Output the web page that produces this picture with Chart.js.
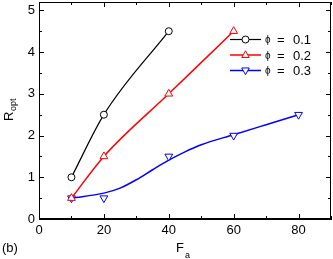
<!DOCTYPE html>
<html>
<head>
<meta charset="utf-8">
<script src="https://cdn.jsdelivr.net/npm/chart.js@4/dist/chart.umd.min.js"></script>
<style>
html,body{margin:0;padding:0;background:#fff;}
canvas{display:block;}
</style>
</head>
<body>
<canvas id="c" width="333" height="259"></canvas>
<script>
// ---- data ----
const phi01X = [10, 20, 40];
const phi01Y = [1.0, 2.5, 4.5];
const phi02X = [10, 20, 40, 60];
const phi02Y = [0.5, 1.5, 3.0, 4.5];
const phi03X = [10, 20, 40, 60, 80];
const phi03Y = [0.5, 0.5, 1.5, 2.0, 2.5];
// smooth fit curve for phi = 0.3
const fit03X = [10, 20, 25, 30, 35, 40, 45, 50, 60, 70, 80];
const fit03Y = [0.50, 0.62, 0.74, 0.94, 1.18, 1.41, 1.61, 1.78, 2.02, 2.26, 2.50];
const legendLabels = ['0.1', '0.2', '0.3'];
const xTitle = 'F', xSub = 'a';
const yTitle = 'R', ySub = 'opt';
const panelLabel = '(b)';

const FONT = '"Liberation Sans", Arial, sans-serif';
const pts = (xs, ys) => xs.map((x, i) => ({x: x, y: ys[i]}));

const styles = [
  {color: '#000000', style: 'circle', rot: 0},
  {color: '#ff0000', style: 'triangle', rot: 0},
  {color: '#0000ff', style: 'triangle', rot: 180}
];

const decor = {
  id: 'decor',
  afterDraw(chart) {
    const ctx = chart.ctx, a = chart.chartArea;
    const xs = chart.scales.x, ys = chart.scales.y;
    ctx.save();
    ctx.strokeStyle = '#000';
    ctx.lineWidth = 1;
    // frame
    ctx.strokeRect(Math.round(a.left) + 0.5, Math.round(a.top) + 0.5,
                   Math.round(a.right - a.left) - 1, Math.round(a.bottom - a.top) - 1);
    // inward ticks, all four sides
    ctx.beginPath();
    xs.ticks.forEach(t => {
      const v = t.value;
      if (Math.abs(v / 10 - Math.round(v / 10)) > 1e-6) return;
      const len = (Math.round(v) % 20 === 0) ? 5 : 3;
      const px = Math.round(xs.getPixelForValue(v)) + 0.5;
      ctx.moveTo(px, a.bottom); ctx.lineTo(px, a.bottom - len);
      ctx.moveTo(px, a.top); ctx.lineTo(px, a.top + len);
    });
    ys.ticks.forEach(t => {
      const v = t.value;
      if (Math.abs(v / 0.5 - Math.round(v / 0.5)) > 1e-6) return;
      const len = (Math.abs(v - Math.round(v)) < 1e-6) ? 5 : 3;
      const py = Math.round(ys.getPixelForValue(v)) + 0.5;
      ctx.moveTo(a.left, py); ctx.lineTo(a.left + len, py);
      ctx.moveTo(a.right, py); ctx.lineTo(a.right - len, py);
    });
    ctx.stroke();

    // axis titles
    ctx.fillStyle = '#000';
    ctx.textBaseline = 'alphabetic';
    ctx.textAlign = 'left';
    ctx.font = '13px ' + FONT;
    const fw = ctx.measureText(xTitle).width;
    ctx.fillText(xTitle, 176, 252);
    ctx.font = '9px ' + FONT;
    ctx.fillText(xSub, 176 + fw + 1, 258);

    ctx.font = '13px ' + FONT;
    ctx.fillText(panelLabel, 2, 252);

    // y title rotated
    ctx.save();
    ctx.translate(13, 121);
    ctx.rotate(-Math.PI / 2);
    ctx.font = '13px ' + FONT;
    const rw = ctx.measureText(yTitle).width;
    ctx.fillText(yTitle, 0, 0);
    ctx.font = '9px ' + FONT;
    ctx.fillText(ySub, rw + 0.5, 3);
    ctx.restore();

    // legend
    const rows = [39.5, 55, 70.5];
    rows.forEach((ry, i) => {
      const s = styles[i];
      ctx.strokeStyle = s.color;
      ctx.lineWidth = i === 0 ? 1.2 : 1.5;
      ctx.beginPath();
      ctx.moveTo(230, ry); ctx.lineTo(261, ry);
      ctx.stroke();
      ctx.lineWidth = 1;
      ctx.fillStyle = '#fff';
      ctx.beginPath();
      const mx = 245.5;
      if (s.style === 'circle') {
        ctx.arc(mx, ry, 3.5, 0, Math.PI * 2);
      } else {
        const r = 4.2;
        const dir = s.rot === 180 ? -1 : 1;
        ctx.moveTo(mx, ry - dir * r);
        ctx.lineTo(mx + r * 0.9, ry + dir * r * 0.6);
        ctx.lineTo(mx - r * 0.9, ry + dir * r * 0.6);
        ctx.closePath();
      }
      ctx.fill();
      ctx.stroke();
      ctx.fillStyle = '#000';
      ctx.textBaseline = 'middle';
      ctx.font = '10px ' + FONT;
      ctx.fillText('\u03D5', 265, ry + 1);
      ctx.font = '13px ' + FONT;
      ctx.fillText('=', 277, ry + 1);
      ctx.fillText(legendLabels[i], 293, ry + 1);
    });
    ctx.restore();
  }
};

const zeroPad = s => { s.paddingTop = 0; s.paddingBottom = 0; s.paddingLeft = 0; s.paddingRight = 0; };

new Chart(document.getElementById('c'), {
  type: 'line',
  data: {
    datasets: [
      {
        label: 'phi = ' + legendLabels[0],
        data: pts(phi01X, phi01Y),
        borderColor: styles[0].color, borderWidth: 1.2,
        pointStyle: 'circle', pointRadius: 3.5, pointBorderWidth: 1,
        pointBackgroundColor: '#fff', pointBorderColor: styles[0].color,
        cubicInterpolationMode: 'monotone', fill: false
      },
      {
        label: 'phi = ' + legendLabels[1],
        data: pts(phi02X, phi02Y),
        borderColor: styles[1].color, borderWidth: 1.5,
        pointStyle: 'triangle', pointRadius: 4.5, pointBorderWidth: 1,
        pointBackgroundColor: '#fff', pointBorderColor: styles[1].color,
        cubicInterpolationMode: 'monotone', fill: false
      },
      {
        label: 'phi = ' + legendLabels[2] + ' markers',
        data: pts(phi03X, phi03Y),
        showLine: false,
        borderColor: styles[2].color,
        pointStyle: 'triangle', pointRotation: 180, pointRadius: 4.5, pointBorderWidth: 1,
        pointBackgroundColor: '#fff', pointBorderColor: styles[2].color
      },
      {
        label: 'phi = ' + legendLabels[2] + ' fit',
        data: pts(fit03X, fit03Y),
        borderColor: styles[2].color, borderWidth: 1.5,
        pointRadius: 0, cubicInterpolationMode: 'monotone', fill: false
      }
    ]
  },
  options: {
    responsive: false,
    animation: false,
    devicePixelRatio: 1,
    layout: {autoPadding: false, padding: {top: 2, right: 2, left: 0, bottom: 0}},
    plugins: {legend: {display: false}, tooltip: {enabled: false}},
    scales: {
      x: {
        type: 'linear', min: 0, max: 90,
        afterFit: s => { s.height = 40; zeroPad(s); },
        grid: {display: false, drawTicks: false},
        border: {display: true, color: '#000', width: 1},
        ticks: {
          stepSize: 10, padding: 4, color: '#000', maxRotation: 0, autoSkip: false,
          includeBounds: false,
          font: {family: FONT, size: 13},
          callback: v => (Math.round(v) % 20 === 0 && Math.abs(v - Math.round(v)) < 1e-6) ? String(v) : ''
        }
      },
      y: {
        type: 'linear', min: 0, max: 5.2,
        afterFit: s => { s.width = 39; zeroPad(s); },
        grid: {display: false, drawTicks: false},
        border: {display: true, color: '#000', width: 1},
        ticks: {
          stepSize: 0.5, padding: 4, color: '#000', autoSkip: false,
          includeBounds: false,
          font: {family: FONT, size: 13},
          callback: v => (Math.abs(v - Math.round(v)) < 1e-6) ? String(Math.round(v)) : ''
        }
      }
    }
  },
  plugins: [decor]
});
</script>
</body>
</html>
